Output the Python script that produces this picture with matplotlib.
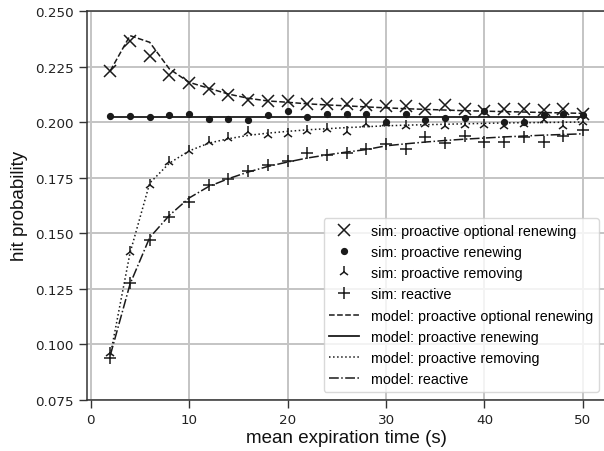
import numpy as np
import matplotlib
matplotlib.use("Agg")
import matplotlib.pyplot as plt

# mean expiration time (s)
x = [2, 4, 6, 8, 10, 12, 14, 16, 18, 20, 22, 24, 26,
     28, 30, 32, 34, 36, 38, 40, 42, 44, 46, 48, 50]

# simulation results
sim_opt_renew = [0.2228, 0.2366, 0.2296, 0.2213, 0.2176, 0.2149, 0.2123, 0.2101, 0.2093,
                 0.2094, 0.2080, 0.2079, 0.2079, 0.2077, 0.2074, 0.2071, 0.2059, 0.2078,
                 0.2059, 0.2050, 0.2059, 0.2059, 0.2054, 0.2059, 0.2038]
sim_renew = [0.2026, 0.2026, 0.2021, 0.2030, 0.2038, 0.2012, 0.2014, 0.2009, 0.2032,
             0.2048, 0.2022, 0.2037, 0.2037, 0.2038, 0.2002, 0.2038, 0.2011, 0.2018,
             0.2018, 0.2048, 0.2002, 0.2002, 0.2032, 0.2038, 0.2032]
sim_remove = [0.0960, 0.1416, 0.1717, 0.1822, 0.1871, 0.1912, 0.1927, 0.1957, 0.1942,
              0.1946, 0.1959, 0.1969, 0.1955, 0.1991, 0.1995, 0.1984, 0.1992, 0.1984,
              0.1986, 0.1988, 0.1984, 0.1990, 0.2010, 0.1984, 0.2000]
sim_reactive = [0.0936, 0.1274, 0.1470, 0.1574, 0.1639, 0.1718, 0.1744, 0.1781, 0.1807,
                0.1826, 0.1861, 0.1852, 0.1861, 0.1879, 0.1901, 0.1879, 0.1931, 0.1904,
                0.1936, 0.1909, 0.1911, 0.1931, 0.1909, 0.1939, 0.1964]

# model results
model_opt_renew = [0.2231, 0.2389, 0.2359, 0.2239, 0.2179, 0.2152, 0.2126, 0.2107, 0.2095,
                   0.2089, 0.2082, 0.2077, 0.2073, 0.2068, 0.2064, 0.2060, 0.2057, 0.2054,
                   0.2051, 0.2049, 0.2047, 0.2045, 0.2043, 0.2041, 0.2039]
model_renew = [0.2024] * len(x)
model_remove = [0.0950, 0.1410, 0.1725, 0.1815, 0.1870, 0.1905, 0.1925, 0.1940, 0.1950,
                0.1958, 0.1965, 0.1970, 0.1975, 0.1979, 0.1983, 0.1986, 0.1988, 0.1990,
                0.1992, 0.1994, 0.1996, 0.1997, 0.1998, 0.1999, 0.2000]
model_reactive = [0.0950, 0.1270, 0.1480, 0.1580, 0.1658, 0.1710, 0.1745, 0.1775, 0.1800,
                  0.1820, 0.1838, 0.1852, 0.1865, 0.1876, 0.1893, 0.1902, 0.1910, 0.1917,
                  0.1923, 0.1928, 0.1933, 0.1937, 0.1941, 0.1944, 0.1947]

plt.rcParams['font.family'] = ['DejaVu Sans']
label_font = ['Liberation Sans', 'DejaVu Sans']
spine_col = '#333333'
ink = '#1a1a1a'

fig = plt.figure(figsize=(6.04, 4.52), dpi=100)
ax = fig.add_axes([0.1435, 0.1135, 0.8608, 0.86])

ax.plot(x, sim_opt_renew, linestyle='none', marker='x', markersize=8, mew=1.1,
        color=ink, label='sim: proactive optional renewing')
ax.plot(x, sim_renew, linestyle='none', marker='o', markersize=4.2,
        color=ink, label='sim: proactive renewing')
ax.plot(x, sim_remove, linestyle='none', marker='2', markersize=8, mew=1.1,
        color=ink, label='sim: proactive removing')
ax.plot(x, sim_reactive, linestyle='none', marker='+', markersize=9, mew=1.1,
        color=ink, label='sim: reactive')

ax.plot(x, model_opt_renew, linestyle='--', lw=1.1, color=ink,
        label='model: proactive optional renewing')
ax.plot(x, model_renew, linestyle='-', lw=1.3, color=ink,
        label='model: proactive renewing')
ax.plot(x, model_remove, linestyle=':', lw=1.1, color=ink,
        label='model: proactive removing')
ax.plot(x, model_reactive, linestyle='-.', lw=1.1, color=ink,
        label='model: reactive')

ax.set_xlim(-0.4, 52.4)
ax.set_ylim(0.075, 0.25)
ax.set_xticks([0, 10, 20, 30, 40, 50])
ax.set_yticks(np.arange(0.075, 0.2501, 0.025))
ax.yaxis.set_major_formatter(matplotlib.ticker.FormatStrFormatter('%.3f'))

ax.grid(True, color='#c4c4c4', lw=1.4)
ax.set_axisbelow(True)
for side in ['left', 'bottom', 'top']:
    ax.spines[side].set_color(spine_col)
    ax.spines[side].set_linewidth(1.1)
ax.spines['right'].set_visible(False)
ax.tick_params(axis='both', direction='out', length=6, width=1, pad=3.5,
               color=spine_col, labelsize=9.7, labelcolor='#222222')

ax.set_xlabel('mean expiration time (s)', fontsize=13.5, family=label_font,
              color='#111111', labelpad=2)
ax.set_ylabel('hit probability', fontsize=13.5, family=label_font,
              color='#111111', labelpad=5)

ax.legend(loc='lower right', prop={'family': label_font, 'size': 10.3},
          numpoints=1, frameon=True, edgecolor='#d0d0d0', fancybox=True,
          handlelength=2.1, borderaxespad=0.55)

fig.savefig('out.png', dpi=100)
